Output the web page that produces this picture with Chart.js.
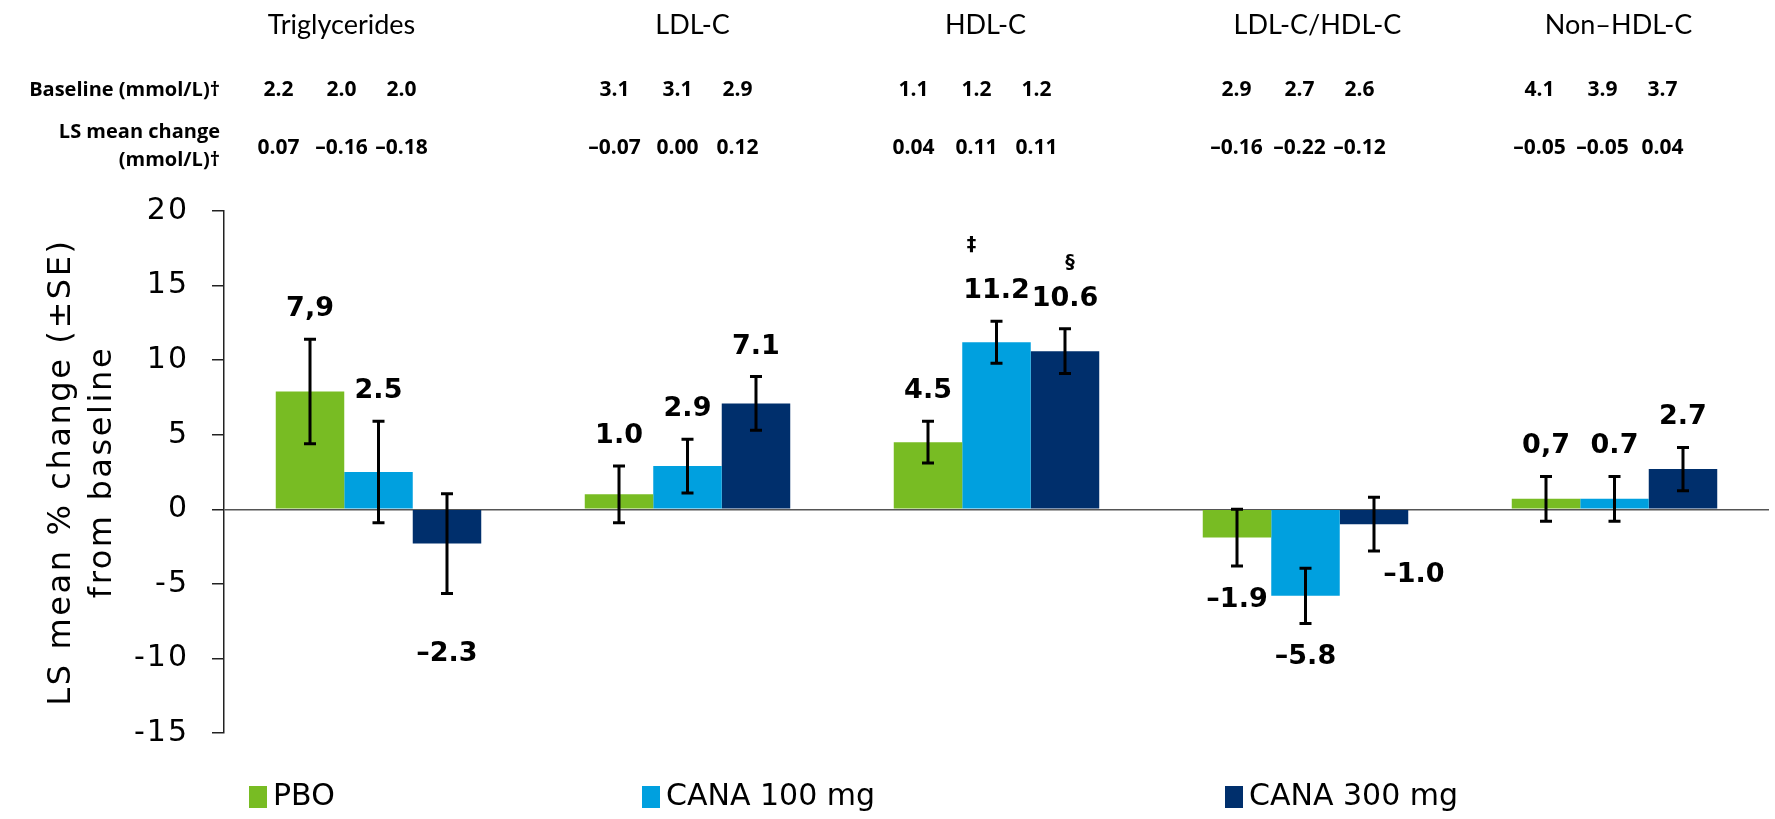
<!DOCTYPE html>
<html>
<head>
<meta charset="utf-8">
<script src="https://cdn.jsdelivr.net/npm/chart.js@4.4.1/dist/chart.umd.min.js"></script>
<style>
  html, body { margin: 0; padding: 0; background: #fff; }
  #wrap { width: 1775px; height: 819px; position: relative; }
</style>
</head>
<body>
<div id="wrap"><canvas id="chart"></canvas></div>
<script>
// categories and series
const categories = ['Triglycerides', 'LDL-C', 'HDL-C', 'LDL-C/HDL-C', 'Non–HDL-C'];
const seriesNames = ['PBO', 'CANA 100 mg', 'CANA 300 mg'];

// LS mean % change from baseline
const pboValues = [7.9, 1.0, 4.5, -1.9, 0.7];
const cana100Values = [2.5, 2.9, 11.2, -5.8, 0.7];
const cana300Values = [-2.3, 7.1, 10.6, -1.0, 2.7];

// standard errors
const pboSE = [3.5, 1.9, 1.4, 1.9, 1.5];
const cana100SE = [3.4, 1.8, 1.4, 1.85, 1.5];
const cana300SE = [3.35, 1.8, 1.5, 1.8, 1.45];

// bar labels as printed
const pboText = ['7,9', '1.0', '4.5', '–1.9', '0,7'];
const cana100Text = ['2.5', '2.9', '11.2', '–5.8', '0.7'];
const cana300Text = ['–2.3', '7.1', '10.6', '–1.0', '2.7'];
const cana100Marks = ['', '', '‡', '', ''];
const cana300Marks = ['', '', '§', '', ''];

// header table
const pboBaseline = ['2.2', '3.1', '1.1', '2.9', '4.1'];
const cana100Baseline = ['2.0', '3.1', '1.2', '2.7', '3.9'];
const cana300Baseline = ['2.0', '2.9', '1.2', '2.6', '3.7'];
const pboChange = ['0.07', '–0.07', '0.04', '–0.16', '–0.05'];
const cana100Change = ['–0.16', '0.00', '0.11', '–0.22', '–0.05'];
const cana300Change = ['–0.18', '0.12', '0.11', '–0.12', '0.04'];

const yTicks = [20, 15, 10, 5, 0, -5, -10, -15];

const colors = ['#78BC23', '#00A0DF', '#002F6C'];

// header layout (pixel shifts from category centre)
const titleShift = [-37, 5, -11, 12, 4];
const colShift = [-37, -10, -20, -6, -12];
const colOffsets = [-63, 0, 60];
// a few labels sit off the default spot in the original
const labelNudge = { '2-0': [0, 26], '2-3': [40, -10] };
const markNudge = { '1-2': [-25, -46], '2-2': [5, -36] };

const seValues = [pboSE, cana100SE, cana300SE];
const labelText = [pboText, cana100Text, cana300Text];
const marks = [['', '', '', '', ''], cana100Marks, cana300Marks];

// slightly wider spacing for the axis numbers, as in the original
const tickSpacing = {
  id: 'tickSpacing',
  beforeDraw(chart) { chart.ctx.letterSpacing = '2px'; },
  beforeDatasetsDraw(chart) { chart.ctx.letterSpacing = '0px'; }
};

const errorBars = {
  id: 'errorBars',
  afterDatasetsDraw(chart) {
    const ctx = chart.ctx;
    const y = chart.scales.y;
    ctx.save();
    ctx.strokeStyle = '#000';
    ctx.lineWidth = 3;
    chart.data.datasets.forEach((ds, di) => {
      chart.getDatasetMeta(di).data.forEach((bar, i) => {
        const v = ds.data[i], se = seValues[di][i];
        const top = y.getPixelForValue(v + se);
        const bot = y.getPixelForValue(v - se);
        ctx.beginPath();
        ctx.moveTo(bar.x, top); ctx.lineTo(bar.x, bot);
        ctx.moveTo(bar.x - 6, top); ctx.lineTo(bar.x + 6, top);
        ctx.moveTo(bar.x - 6, bot); ctx.lineTo(bar.x + 6, bot);
        ctx.stroke();

        // value label
        const nudge = labelNudge[di + '-' + i] || [0, 0];
        ctx.fillStyle = '#000';
        ctx.font = 'bold 27px "DejaVu Sans"';
        ctx.textAlign = 'center';
        ctx.textBaseline = 'middle';
        const ly = (v >= 0 ? top - 30 : bot + 34) + nudge[1];
        ctx.fillText(labelText[di][i], bar.x + nudge[0], ly);
        if (marks[di][i]) {
          const mn = markNudge[di + '-' + i] || [0, -48];
          ctx.font = 'bold 19px "DejaVu Sans"';
          ctx.fillText(marks[di][i], bar.x + mn[0], ly + mn[1]);
        }
      });
    });
    ctx.restore();
  }
};

const decorations = {
  id: 'decorations',
  afterDraw(chart) {
    const ctx = chart.ctx;
    const x = chart.scales.x;
    const area = chart.chartArea;
    ctx.save();
    ctx.fillStyle = '#000';

    // header table
    ctx.textBaseline = 'middle';
    ctx.textAlign = 'right';
    ctx.font = 'bold 20px "Open Sans"';
    ctx.fillText('Baseline (mmol/L)†', 220, 90);
    ctx.fillText('LS mean change', 220, 132);
    ctx.fillText('(mmol/L)†', 220, 160);
    const baseRows = [pboBaseline, cana100Baseline, cana300Baseline];
    const changeRows = [pboChange, cana100Change, cana300Change];
    categories.forEach((c, i) => {
      const cx = x.getPixelForValue(i);
      ctx.textAlign = 'center';
      ctx.font = '27px Lato';
      ctx.fillText(c, cx + titleShift[i], 25);
      ctx.font = 'bold 21px "Open Sans"';
      for (let k = 0; k < 3; k++) {
        const px = cx + colShift[i] + colOffsets[k];
        ctx.fillText(baseRows[k][i], px, 90);
        ctx.fillText(changeRows[k][i], px, 148);
      }
    });

    // y axis title
    const midY = (area.top + area.bottom) / 2;
    ctx.font = '32px "DejaVu Sans"';
    ctx.letterSpacing = '2.6px';
    ctx.textAlign = 'center';
    [['LS mean % change (±SE)', 62], ['from baseline', 103]].forEach(([t, lx]) => {
      ctx.save();
      ctx.translate(lx, midY);
      ctx.rotate(-Math.PI / 2);
      ctx.fillText(t, 0, 0);
      ctx.restore();
    });
    ctx.letterSpacing = '0px';

    // legend
    const legendX = [249, 642, 1225];
    ctx.font = '30px "DejaVu Sans"';
    ctx.textAlign = 'left';
    seriesNames.forEach((name, k) => {
      ctx.fillStyle = colors[k];
      ctx.fillRect(legendX[k], 786, 18, 22);
      ctx.fillStyle = '#000';
      ctx.fillText(name, legendX[k] + 24, 797);
    });
    ctx.restore();
  }
};

new Chart(document.getElementById('chart'), {
  type: 'bar',
  data: {
    labels: categories,
    datasets: [
      { label: seriesNames[0], data: pboValues, backgroundColor: colors[0] },
      { label: seriesNames[1], data: cana100Values, backgroundColor: colors[1] },
      { label: seriesNames[2], data: cana300Values, backgroundColor: colors[2] }
    ]
  },
  options: {
    responsive: true,
    maintainAspectRatio: false,
    animation: false,
    layout: { padding: { left: 0, right: 6, top: 211, bottom: 86 } },
    datasets: { bar: { categoryPercentage: 0.665, barPercentage: 1, borderWidth: 0 } },
    plugins: { legend: { display: false }, tooltip: { enabled: false } },
    scales: {
      x: { display: false },
      y: {
        min: -15,
        max: 20,
        afterBuildTicks: s => { s.ticks = yTicks.map(v => ({ value: v })); },
        afterFit: s => { s.width = 224; },
        border: { display: true, color: '#222', width: 1.5 },
        grid: {
          color: c => (c.tick && c.tick.value === 0 ? '#555' : 'rgba(0,0,0,0)'),
          lineWidth: 1.5,
          tickLength: 12,
          tickColor: '#222'
        },
        ticks: { color: '#000', font: { family: 'DejaVu Sans', size: 30 }, padding: 23 }
      }
    }
  },
  plugins: [tickSpacing, errorBars, decorations]
});
</script>
</body>
</html>
